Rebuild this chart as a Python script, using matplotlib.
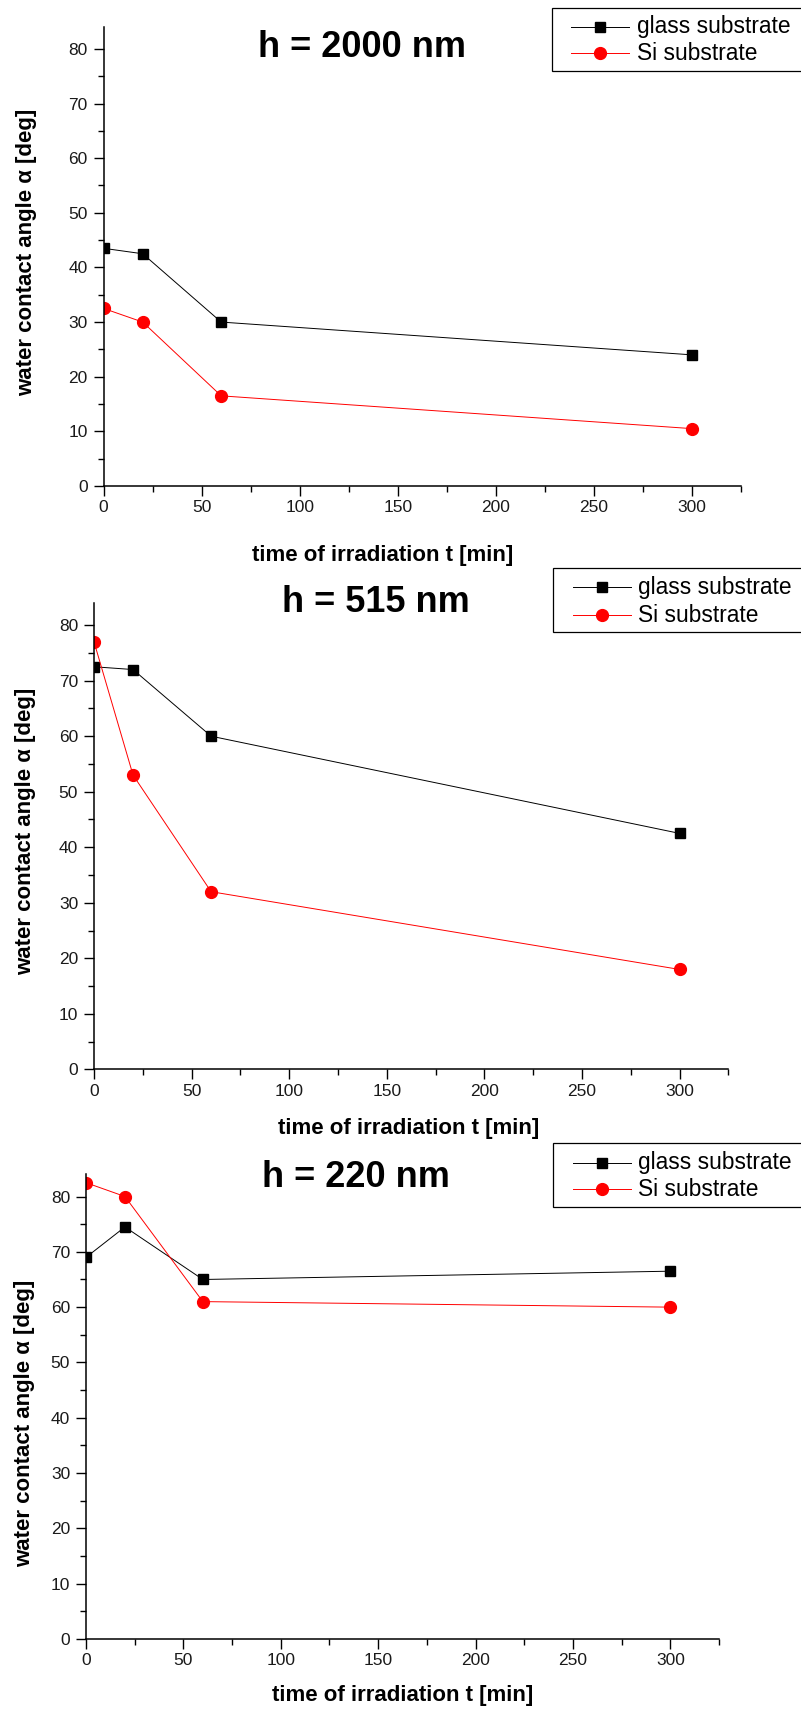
import matplotlib
matplotlib.use("Agg")
import matplotlib.pyplot as plt
from matplotlib.ticker import MultipleLocator, FixedLocator
from matplotlib.lines import Line2D
from matplotlib.patches import Rectangle
from matplotlib.transforms import Affine2D

plt.rcParams['font.family'] = ['Liberation Sans', 'DejaVu Sans']

# ---- data -------------------------------------------------------------
time_min = [0, 20, 60, 300]

titles = ["h = 2000 nm", "h = 515 nm", "h = 220 nm"]

glass_2000 = [43.5, 42.5, 30.0, 24.0]
si_2000 = [32.5, 30.0, 16.5, 10.5]

glass_515 = [72.5, 72.0, 60.0, 42.5]
si_515 = [77.0, 53.0, 32.0, 18.0]

glass_220 = [69.0, 74.5, 65.0, 66.5]
si_220 = [82.5, 80.0, 61.0, 60.0]

series_labels = ["glass substrate", "Si substrate"]
x_label = "time of irradiation t [min]"
y_label = "water contact angle \u03b1 [deg]"
x_ticks = [0, 50, 100, 150, 200, 250, 300]
y_ticks = [0, 10, 20, 30, 40, 50, 60, 70, 80]

# ---- figure / pixel helpers -------------------------------------------
W, H, DPI = 801, 1711, 100
fig = plt.figure(figsize=(W / DPI, H / DPI), dpi=DPI)
fig.patch.set_facecolor("white")

# pixel coordinates measured from the top-left corner
pix = Affine2D().scale(1.0 / W, -1.0 / H).translate(0, 1) + fig.transFigure

panels = [
    dict(glass=glass_2000, si=si_2000, title=titles[0],
         box=(103.5, 27.0, 741.0, 486.0), title_xy=(258.0, 57.0),
         xlab_xy=(251.7, 555.5), ylab_xy=(26.5, 252.6),
         leg=(551.7, 8.3, 70.7, 26.7, 53.3)),
    dict(glass=glass_515, si=si_515, title=titles[1],
         box=(94.0, 602.9, 728.3, 1069.4), title_xy=(281.7, 611.8),
         xlab_xy=(278.3, 1128.3), ylab_xy=(25.8, 831.0),
         leg=(553.3, 568.3, 632.3, 587.3, 615.0)),
    dict(glass=glass_220, si=si_220, title=titles[2],
         box=(86.0, 1174.4, 719.0, 1639.0), title_xy=(261.7, 1187.3),
         xlab_xy=(271.7, 1696.0), ylab_xy=(25.0, 1423.0),
         leg=(553.3, 1143.3, 1207.3, 1162.7, 1189.3)),
]

glass_style = dict(color="black", lw=0.7, marker="s", ms=7.5,
                   mfc="black", mec="black")
si_style = dict(color="red", lw=0.7, marker="o", ms=8.5,
                mfc="red", mec="red")

tick_font = 12.5
label_font = 16
title_font = 26
legend_font = 16.4

for p in panels:
    x0, y0, x1, y1 = p["box"]
    ax = fig.add_axes([x0 / W, 1 - y1 / H, (x1 - x0) / W, (y1 - y0) / H])
    ax.plot(time_min, p["glass"], **glass_style)
    ax.plot(time_min, p["si"], **si_style)

    ax.set_xlim(0, 325)
    ax.set_ylim(0, 84)
    ax.xaxis.set_major_locator(FixedLocator(x_ticks))
    ax.yaxis.set_major_locator(FixedLocator(y_ticks))
    ax.xaxis.set_minor_locator(MultipleLocator(25))
    ax.yaxis.set_minor_locator(MultipleLocator(5))
    ax.tick_params(which="major", direction="out", length=7.2, width=1.0,
                   labelsize=tick_font, colors="black", labelcolor="#1a1a1a")
    ax.tick_params(which="minor", direction="out", length=4.3, width=1.0)
    ax.tick_params(axis="x", which="major", pad=3.2)
    ax.tick_params(axis="y", which="major", pad=4.2)
    for side in ("top", "right"):
        ax.spines[side].set_visible(False)
    for side in ("left", "bottom"):
        ax.spines[side].set_linewidth(1.1)
    ax.set_facecolor("none")

    # title and axis labels
    tx, ty = p["title_xy"]
    fig.text(tx, ty, p["title"], transform=pix, fontsize=title_font,
             fontweight="bold", ha="left", va="baseline")
    lx, ly = p["xlab_xy"]
    fig.text(lx, ly, x_label, transform=pix, fontsize=label_font,
             fontweight="bold", ha="left", va="center")
    yx, yy = p["ylab_xy"]
    fig.text(yx, yy, y_label, transform=pix, fontsize=label_font,
             fontweight="bold", ha="center", va="center", rotation=90)

    # legend box with line+marker samples
    lx0, ltop, lbot, row1, row2 = p["leg"]
    fig.add_artist(Rectangle((lx0, ltop), W + 20 - lx0, lbot - ltop,
                             transform=pix, fill=True, facecolor="white",
                             edgecolor="black", lw=0.9))
    for row, style, lab in ((row1, glass_style, series_labels[0]),
                            (row2, si_style, series_labels[1])):
        fig.add_artist(Line2D([lx0 + 19.3, lx0 + 77.6], [row, row],
                              transform=pix, color=style["color"],
                              lw=style["lw"]))
        fig.add_artist(Line2D([lx0 + 48.3], [row], transform=pix,
                              ls="none", marker=style["marker"],
                              ms=style["ms"], mfc=style["mfc"],
                              mec=style["mec"]))
        fig.text(lx0 + 85.0, row, lab, transform=pix, fontsize=legend_font,
                 ha="left", va="center")

fig.savefig("out.png", dpi=DPI, facecolor="white")
